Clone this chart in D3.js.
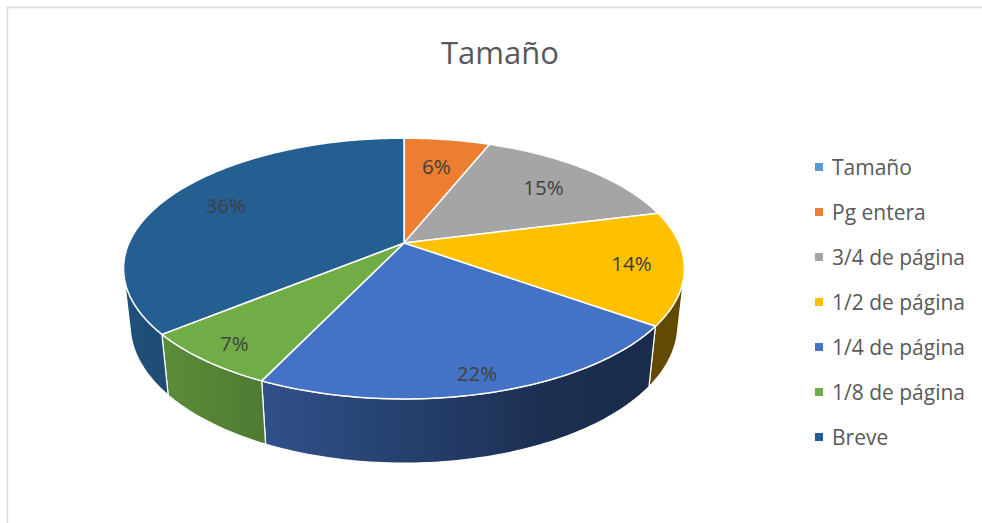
<!DOCTYPE html>
<html>
<head>
<meta charset="utf-8">
<script src="https://cdn.jsdelivr.net/npm/d3@7"></script>
<style>
  body { margin: 0; background: #fff; }
  svg { display: block; }
  text { font-family: "Open Sans", sans-serif; }
</style>
</head>
<body>
<div id="chart"></div>
<script>
const title = 'Tamaño'
const categories = ['Tamaño', 'Pg entera', '3/4 de página', '1/2 de página', '1/4 de página', '1/8 de página', 'Breve']
const values = [0, 6, 15, 14, 22, 7, 36]
const labels = ['0%', '6%', '15%', '14%', '22%', '7%', '36%']
const colors = ['#5B9BD5', '#ED7D31', '#A5A5A5', '#FFC000', '#4472C4', '#70AD47', '#255E91']

const w = 982, h = 523
const cx = 404, cy = 243

// simple perspective camera looking down at the disc (eye at distance 1)
const R = 0.22, thick = 0.051, focal = 1250
const sn = 0.456, cs = Math.sqrt(1 - sn * sn)

// t: angle clockwise from 12 o'clock, r: radius, y: height (0 = top face)
function project(t, r, y) {
    const dx = r * Math.sin(t), dy = y - sn, dz = -r * Math.cos(t) - cs
    const depth = -dy * sn - dz * cs
    const up = dy * cs - dz * sn
    return [cx + focal * dx / depth, cy - focal * up / depth]
}

function arcPoints(a0, a1, y) {
    const n = Math.max(2, Math.ceil((a1 - a0) / 0.02))
    return d3.range(n + 1).map(i => project(a0 + (a1 - a0) * i / n, R, y))
}

const svg = d3.select('#chart')
    .append('svg')
    .attr('width', w)
    .attr('height', h)

// chart border
svg.append('rect')
    .attr('x', 7.5).attr('y', 7.5)
    .attr('width', 1000).attr('height', 600)
    .attr('fill', '#fff')
    .attr('stroke', '#D9D9D9')
    .attr('stroke-width', 1.5)

svg.append('text')
    .attr('x', 500).attr('y', 52)
    .attr('text-anchor', 'middle')
    .attr('dominant-baseline', 'central')
    .attr('font-size', 31)
    .attr('fill', '#595959')
    .text(title)

const pie = d3.pie().sort(null).value(d => d)
const arcs = pie(values)

const line = d3.line()

// shading of the side walls, darker toward the right
const shade = d3.scaleLinear().domain([126, 560, 684]).range([0.85, 0.40, 0.38]).clamp(true)
const defs = svg.append('defs')
arcs.forEach((a, i) => {
    const g = defs.append('linearGradient')
        .attr('id', 'wall' + i)
        .attr('gradientUnits', 'userSpaceOnUse')
        .attr('x1', 126).attr('x2', 684).attr('y1', 0).attr('y2', 0)
    const base = d3.rgb(colors[i])
    ;[126, 200, 300, 400, 480, 560, 684].forEach(x => {
        const k = shade(x)
        g.append('stop')
            .attr('offset', (x - 126) / (684 - 126))
            .attr('stop-color', d3.rgb(base.r * k, base.g * k, base.b * k))
    })
})

// visible part of the outer wall
const tMin = Math.acos(-R / cs), tMax = 2 * Math.PI - tMin

const walls = svg.append('g')
arcs.forEach((a, i) => {
    if (a.value === 0) return
    const lo = Math.max(a.startAngle, tMin), hi = Math.min(a.endAngle, tMax)
    if (hi <= lo) return
    const pts = arcPoints(lo, hi, 0).concat(arcPoints(lo, hi, -thick).reverse())
    walls.append('path')
        .attr('d', line(pts) + 'Z')
        .attr('fill', 'url(#wall' + i + ')')
        .attr('stroke', '#fff')
        .attr('stroke-width', 1.2)
        .attr('stroke-linejoin', 'round')
})

// top faces
const tops = svg.append('g')
arcs.forEach((a, i) => {
    if (a.value === 0) return
    const pts = [[cx, cy]].concat(arcPoints(a.startAngle, a.endAngle, 0))
    tops.append('path')
        .attr('d', line(pts) + 'Z')
        .attr('fill', colors[i])
        .attr('stroke', '#fff')
        .attr('stroke-width', 1.5)
        .attr('stroke-linejoin', 'round')
})

// data labels
svg.append('g').selectAll('text')
    .data(arcs.filter(a => a.value > 0))
    .enter()
    .append('text')
    .attr('transform', d => {
        const mid = (d.startAngle + d.endAngle) / 2
        const k = 0.8 - 0.09 * Math.cos(mid)
        const p = project(mid, R * k, 0)
        return 'translate(' + p[0] + ',' + p[1] + ')'
    })
    .attr('text-anchor', 'middle')
    .attr('dominant-baseline', 'central')
    .attr('font-size', 20.5)
    .attr('fill', '#404040')
    .text(d => labels[d.index])

// legend
const legend = svg.append('g')
    .selectAll('g')
    .data(categories)
    .enter()
    .append('g')
    .attr('transform', (d, i) => 'translate(815,' + (167 + i * 45) + ')')

legend.append('rect')
    .attr('x', 0).attr('y', -4)
    .attr('width', 8).attr('height', 8)
    .attr('fill', (d, i) => colors[i])

legend.append('text')
    .attr('x', 17).attr('y', 0)
    .attr('dominant-baseline', 'central')
    .attr('font-size', 21)
    .attr('fill', '#595959')
    .text(d => d)
</script>
</body>
</html>
